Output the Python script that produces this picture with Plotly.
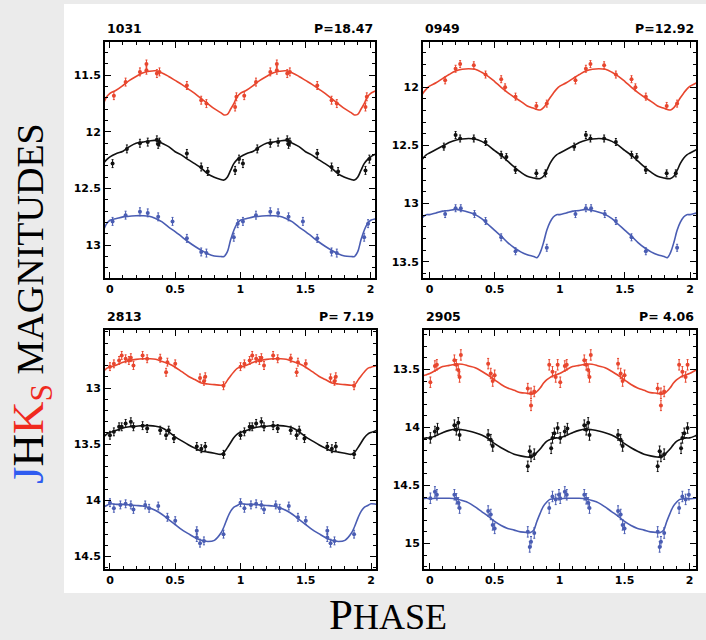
import plotly.graph_objects as go

# ---------------- data ----------------
star_ids = ["1031", "0949", "2813", "2905"]
periods = ["P=18.47", "P=12.92", "P= 7.19", "P= 4.06"]

x_tickvals = [0, 0.5, 1, 1.5, 2]
x_ticktext = ["0", "0.5", "1", "1.5", "2"]
y_tickvals = [[11.5, 12, 12.5, 13], [12, 12.5, 13, 13.5], [13, 13.5, 14, 14.5], [13.5, 14, 14.5, 15]]
y_ticktext = [["11.5", "12", "12.5", "13"], ["12", "12.5", "13", "13.5"],
              ["13", "13.5", "14", "14.5"], ["13.5", "14", "14.5", "15"]]

# template light-curve phases and magnitudes (one cycle, repeated when plotted)
grid_1031 = [0, .05, .1, .15, .2, .25, .3, .35, .4, .45, .5, .55, .6, .65, .7, .75, .8, .85, .875, .9, .925, .95, .975]
j_1031 = [11.66, 11.63, 11.59, 11.545, 11.51, 11.48, 11.465, 11.46, 11.48, 11.51, 11.545, 11.58, 11.62, 11.66, 11.705, 11.75, 11.795, 11.83, 11.85, 11.845, 11.8, 11.75, 11.69]
h_1031 = [12.22, 12.19, 12.17, 12.13, 12.1, 12.09, 12.08, 12.075, 12.1, 12.13, 12.175, 12.205, 12.245, 12.28, 12.32, 12.37, 12.4, 12.42, 12.425, 12.4, 12.34, 12.28, 12.245]
k_1031 = [12.78, 12.765, 12.75, 12.745, 12.74, 12.74, 12.745, 12.765, 12.795, 12.84, 12.88, 12.925, 12.97, 13.01, 13.045, 13.075, 13.095, 13.1, 13.1, 13.06, 12.955, 12.87, 12.81]

grid_0949 = [0, .05, .1, .15, .2, .25, .3, .35, .4, .45, .5, .55, .6, .65, .7, .75, .8, .825, .85, .875, .9, .925, .95, .975]
j_0949 = [11.99, 11.96, 11.925, 11.89, 11.86, 11.845, 11.84, 11.845, 11.87, 11.905, 11.95, 12.0, 12.045, 12.085, 12.12, 12.16, 12.18, 12.19, 12.195, 12.175, 12.135, 12.09, 12.05, 12.015]
h_0949 = [12.565, 12.535, 12.505, 12.475, 12.455, 12.445, 12.44, 12.445, 12.465, 12.5, 12.545, 12.585, 12.635, 12.685, 12.73, 12.765, 12.78, 12.785, 12.785, 12.765, 12.715, 12.655, 12.61, 12.58]
k_0949 = [13.095, 13.08, 13.065, 13.06, 13.05, 13.06, 13.075, 13.095, 13.13, 13.18, 13.23, 13.28, 13.335, 13.38, 13.415, 13.44, 13.455, 13.465, 13.42, 13.335, 13.23, 13.16, 13.115, 13.095]

grid_2813 = [0, .05, .1, .15, .2, .25, .3, .35, .4, .45, .5, .55, .6, .65, .7, .75, .8, .85, .875, .9, .925, .95, .975]
j_2813 = [12.815, 12.795, 12.77, 12.755, 12.745, 12.74, 12.74, 12.745, 12.765, 12.785, 12.815, 12.855, 12.895, 12.925, 12.955, 12.965, 12.97, 12.975, 12.97, 12.93, 12.89, 12.855, 12.825]
h_2813 = [13.395, 13.375, 13.355, 13.345, 13.34, 13.335, 13.335, 13.34, 13.355, 13.39, 13.435, 13.47, 13.505, 13.535, 13.56, 13.57, 13.58, 13.59, 13.57, 13.53, 13.485, 13.44, 13.41]
k_2813 = [14.03, 14.035, 14.035, 14.04, 14.045, 14.05, 14.065, 14.09, 14.125, 14.17, 14.215, 14.26, 14.295, 14.33, 14.355, 14.365, 14.355, 14.29, 14.23, 14.155, 14.095, 14.06, 14.045]

grid_2905 = [0, .05, .1, .15, .2, .25, .3, .35, .4, .45, .5, .55, .6, .65, .7, .75, .775, .8, .825, .85, .875, .9, .925, .95, .975]
j_2905 = [13.535, 13.505, 13.475, 13.465, 13.455, 13.455, 13.47, 13.485, 13.515, 13.55, 13.59, 13.63, 13.66, 13.68, 13.7, 13.705, 13.71, 13.71, 13.69, 13.66, 13.62, 13.59, 13.57, 13.555, 13.545]
h_2905 = [14.09, 14.07, 14.045, 14.025, 14.015, 14.02, 14.03, 14.045, 14.065, 14.095, 14.14, 14.175, 14.205, 14.23, 14.245, 14.255, 14.255, 14.245, 14.215, 14.185, 14.15, 14.12, 14.105, 14.095, 14.09]
k_2905 = [14.615, 14.61, 14.61, 14.61, 14.615, 14.63, 14.65, 14.685, 14.725, 14.765, 14.81, 14.845, 14.87, 14.885, 14.9, 14.905, 14.905, 14.885, 14.81, 14.74, 14.68, 14.645, 14.62, 14.615, 14.61]

# observed points (phase, magnitude), one cycle; shown twice
obs_ph_j_1031 = [0.03, 0.12, 0.23, 0.28, 0.28, 0.36, 0.38, 0.59, 0.70, 0.74, 0.96, 0.97]
obs_mg_j_1031 = [11.68, 11.56, 11.47, 11.455, 11.40, 11.485, 11.47, 11.59, 11.72, 11.75, 11.78, 11.69]
obs_ph_h_1031 = [0.02, 0.13, 0.23, 0.29, 0.36, 0.37, 0.38, 0.59, 0.70, 0.75, 0.96, 0.99]
obs_mg_h_1031 = [12.28, 12.15, 12.10, 12.09, 12.07, 12.11, 12.09, 12.19, 12.31, 12.35, 12.34, 12.24]
obs_ph_k_1031 = [0.02, 0.12, 0.23, 0.29, 0.37, 0.48, 0.59, 0.70, 0.74, 0.95, 0.98]
obs_mg_k_1031 = [12.79, 12.735, 12.705, 12.715, 12.75, 12.79, 12.94, 13.06, 13.07, 12.93, 12.81]

obs_ph_j_0949 = [0.12, 0.20, 0.235, 0.34, 0.43, 0.55, 0.58, 0.66, 0.82, 0.90]
obs_mg_j_0949 = [11.94, 11.84, 11.80, 11.81, 11.89, 11.93, 12.0, 12.08, 12.16, 12.14]
obs_ph_h_0949 = [0.11, 0.20, 0.235, 0.34, 0.43, 0.55, 0.59, 0.66, 0.82, 0.89]
obs_mg_h_0949 = [12.51, 12.41, 12.44, 12.44, 12.47, 12.58, 12.60, 12.71, 12.74, 12.74]
obs_ph_k_0949 = [0.12, 0.20, 0.24, 0.345, 0.43, 0.55, 0.66, 0.90]
obs_mg_k_0949 = [13.09, 13.04, 13.04, 13.09, 13.15, 13.29, 13.41, 13.38]

obs_ph_j_2813 = [0.0, 0.03, 0.07, 0.09, 0.12, 0.145, 0.16, 0.18, 0.25, 0.285, 0.385, 0.43, 0.44, 0.50, 0.69, 0.72, 0.73, 0.87]
obs_mg_j_2813 = [12.81, 12.785, 12.755, 12.71, 12.74, 12.755, 12.73, 12.80, 12.71, 12.74, 12.735, 12.86, 12.77, 12.785, 12.91, 12.94, 12.90, 12.98]
obs_ph_h_2813 = [0.0, 0.03, 0.07, 0.09, 0.12, 0.16, 0.18, 0.25, 0.285, 0.385, 0.43, 0.45, 0.49, 0.665, 0.70, 0.73, 0.87]
obs_mg_h_2813 = [13.42, 13.39, 13.345, 13.345, 13.315, 13.30, 13.345, 13.335, 13.36, 13.375, 13.42, 13.375, 13.45, 13.52, 13.54, 13.52, 13.59]
obs_ph_k_2813 = [0.0, 0.03, 0.08, 0.12, 0.16, 0.18, 0.27, 0.30, 0.37, 0.44, 0.50, 0.665, 0.665, 0.69, 0.72, 0.87]
obs_mg_k_2813 = [14.02, 14.07, 14.04, 14.03, 14.04, 14.08, 14.04, 14.07, 14.05, 14.15, 14.18, 14.27, 14.33, 14.38, 14.36, 14.30]

obs_ph_j_2905 = [0.005, 0.04, 0.055, 0.19, 0.205, 0.22, 0.23, 0.24, 0.45, 0.47, 0.485, 0.50, 0.755, 0.78, 0.78, 0.805, 0.92, 0.945, 0.97, 0.985]
obs_mg_j_2905 = [13.61, 13.47, 13.46, 13.42, 13.46, 13.505, 13.565, 13.375, 13.45, 13.535, 13.60, 13.55, 13.665, 13.705, 13.81, 13.69, 13.46, 13.52, 13.565, 13.46]
obs_ph_h_2905 = [0.005, 0.04, 0.06, 0.19, 0.205, 0.22, 0.23, 0.45, 0.47, 0.485, 0.755, 0.77, 0.78, 0.805, 0.935, 0.945, 0.96, 0.985]
obs_mg_h_2905 = [14.09, 14.035, 14.01, 13.98, 14.02, 13.96, 14.065, 14.065, 14.105, 14.16, 14.335, 14.205, 14.25, 14.23, 14.18, 14.09, 14.05, 14.005]
obs_ph_k_2905 = [0.005, 0.04, 0.055, 0.19, 0.205, 0.22, 0.23, 0.45, 0.47, 0.485, 0.50, 0.755, 0.77, 0.78, 0.805, 0.92, 0.945, 0.97, 0.995]
obs_mg_k_2905 = [14.61, 14.555, 14.58, 14.58, 14.615, 14.65, 14.695, 14.72, 14.75, 14.84, 14.87, 14.90, 15.03, 14.985, 14.91, 14.695, 14.595, 14.62, 14.58]

obs_err = [0.035, 0.03, 0.035, 0.045]

x_ranges = [[-0.038, 2.033], [-0.05, 2.045], [-0.038, 2.038], [-0.044, 2.05]]
y_ranges = [[13.29, 11.206], [13.64, 11.61], [14.61, 12.484], [15.22, 13.16]]

# ---------------- styling / layout ----------------
W, H = 706, 640
RED, BLACK, BLUE = "#e8462e", "#111111", "#4a5db3"

# panel frames in pixels: (left, right, top, bottom)
frames = [(105, 375, 42, 278), (423, 696, 42, 278), (105, 376, 330, 569), (424, 696, 330, 569)]

panels = [
    (grid_1031, [j_1031, h_1031, k_1031],
     [(obs_ph_j_1031, obs_mg_j_1031), (obs_ph_h_1031, obs_mg_h_1031), (obs_ph_k_1031, obs_mg_k_1031)]),
    (grid_0949, [j_0949, h_0949, k_0949],
     [(obs_ph_j_0949, obs_mg_j_0949), (obs_ph_h_0949, obs_mg_h_0949), (obs_ph_k_0949, obs_mg_k_0949)]),
    (grid_2813, [j_2813, h_2813, k_2813],
     [(obs_ph_j_2813, obs_mg_j_2813), (obs_ph_h_2813, obs_mg_h_2813), (obs_ph_k_2813, obs_mg_k_2813)]),
    (grid_2905, [j_2905, h_2905, k_2905],
     [(obs_ph_j_2905, obs_mg_j_2905), (obs_ph_h_2905, obs_mg_h_2905), (obs_ph_k_2905, obs_mg_k_2905)]),
]
colors = [RED, BLACK, BLUE]

fig = go.Figure()
layout = dict(
    width=W, height=H, margin=dict(l=0, r=0, t=0, b=0),
    paper_bgcolor="#ebebeb", plot_bgcolor="white", showlegend=False,
    shapes=[dict(type="rect", xref="paper", yref="paper",
                 x0=64 / W, x1=1.0, y0=1 - 593 / H, y1=1 - 4 / H,
                 fillcolor="white", line=dict(width=0), layer="below")],
    annotations=[],
)

tickfont = dict(family="DejaVu Sans", size=11, color="black", weight="bold")

for i, (grid, curves, obs) in enumerate(panels):
    n = i + 1
    xa = "x" if n == 1 else f"x{n}"
    ya = "y" if n == 1 else f"y{n}"
    l, r, t, b = frames[i]
    common = dict(showline=True, linewidth=2, linecolor="black", mirror="allticks",
                  ticks="inside", ticklen=6, tickwidth=1, tickcolor="black",
                  showgrid=False, zeroline=False, tickfont=tickfont, tickmode="array",
                  minor=dict(ticks="inside", ticklen=3, tickwidth=1, tickcolor="black",
                             tickmode="linear", tick0=0, dtick=0.1, showgrid=False))
    layout[f"xaxis{'' if n == 1 else n}"] = dict(
        domain=[l / W, r / W], range=x_ranges[i], anchor=ya,
        tickvals=x_tickvals, ticktext=x_ticktext, **common)
    layout[f"yaxis{'' if n == 1 else n}"] = dict(
        domain=[1 - b / H, 1 - t / H], range=y_ranges[i], anchor=xa,
        tickvals=y_tickvals[i], ticktext=y_ticktext[i], **common)

    for c, mags in enumerate(curves):
        xs, ys = [], []
        for k in (-1, 0, 1, 2):
            for p, m in zip(grid, mags):
                xs.append(p + k)
                ys.append(m)
        fig.add_trace(go.Scatter(x=xs, y=ys, mode="lines", xaxis=xa, yaxis=ya,
                                 line=dict(color=colors[c], width=1.6, shape="spline"),
                                 hoverinfo="skip"))
        ph, mg = obs[c]
        ox = list(ph) + [p + 1 for p in ph]
        oy = list(mg) + list(mg)
        fig.add_trace(go.Scatter(x=ox, y=oy, mode="markers", xaxis=xa, yaxis=ya,
                                 marker=dict(color=colors[c], size=4),
                                 error_y=dict(type="constant", value=obs_err[i], color=colors[c],
                                              thickness=1, width=1),
                                 cliponaxis=True))

    title_font = dict(family="DejaVu Sans", size=12.5, color="black", weight="bold")
    layout["annotations"].append(dict(text=star_ids[i], xref="paper", yref="paper",
                                      x=l / W, y=1 - (t - 4) / H, xanchor="left", yanchor="bottom",
                                      showarrow=False, font=title_font))
    layout["annotations"].append(dict(text=periods[i], xref="paper", yref="paper",
                                      x=r / W, y=1 - (t - 4) / H, xanchor="right", yanchor="bottom",
                                      showarrow=False, font=title_font))

serif = "Liberation Serif"
layout["annotations"].append(dict(
    text=("<span style='color:#2f5cf0'>J</span>H<span style='color:#f02a1e'>K<sub>S</sub></span>"
          "<span style='font-size:38px'> MAGNITUDES</span>"),
    xref="paper", yref="paper", x=31 / W, y=1 - 304 / H, xanchor="center", yanchor="middle",
    textangle=-90, showarrow=False, font=dict(family=serif, size=45, color="black")))
layout["annotations"].append(dict(
    text="P<span style='font-size:36px'>HASE</span>",
    xref="paper", yref="paper", x=388 / W, y=0, xanchor="center", yanchor="bottom",
    showarrow=False, font=dict(family=serif, size=43, color="black")))

fig.update_layout(**layout)
fig.write_html("out.html", config={"displayModeBar": False},
               post_script="document.body.style.margin='0px';document.body.style.backgroundColor='#ebebeb';")
